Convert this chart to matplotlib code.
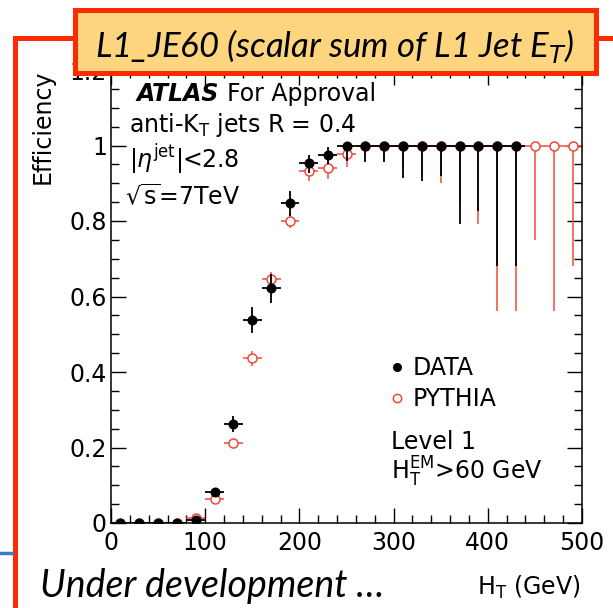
import matplotlib
matplotlib.use("Agg")
import matplotlib.pyplot as plt
from matplotlib.lines import Line2D
from matplotlib.patches import Rectangle
from matplotlib.ticker import MultipleLocator, FixedLocator

# H_T bin centres (GeV), 20 GeV wide bins
ht_data = [10, 30, 50, 70, 90, 110, 130, 150, 170, 190, 210, 230,
           250, 270, 290, 310, 330, 350, 370, 390, 410, 430]
ht_mc = ht_data + [450, 470, 490]

# trigger efficiency, DATA
eff_data = [0, 0, 0, 0, 0.008, 0.083, 0.262, 0.538, 0.622, 0.847, 0.954, 0.975,
            1, 1, 1, 1, 1, 1, 1, 1, 1, 1]
err_data_lo = [0, 0, 0, 0, 0.004, 0.01, 0.021, 0.035, 0.038, 0.033, 0.027, 0.025,
               0.04, 0.043, 0.045, 0.086, 0.095, 0.081, 0.207, 0.174, 0.32, 0.32]
err_data_hi = [0, 0, 0, 0, 0.004, 0.01, 0.021, 0.035, 0.038, 0.033, 0.022, 0.02,
               0, 0, 0, 0, 0, 0, 0, 0, 0, 0]

# trigger efficiency, PYTHIA
eff_mc = [0, 0, 0, 0, 0.013, 0.063, 0.211, 0.436, 0.646, 0.801, 0.932, 0.941,
          0.977, 1, 1, 1, 1, 1, 1, 1, 1, 1, 1, 1, 1]
err_mc_lo = [0, 0, 0, 0, 0.005, 0.008, 0.008, 0.02, 0.02, 0.02, 0.025, 0.03,
             0.033, 0.03, 0.03, 0.06, 0.08, 0.10, 0.15, 0.207, 0.439, 0.439,
             0.251, 0.439, 0.32]
err_mc_hi = [0, 0, 0, 0, 0.005, 0.008, 0.008, 0.02, 0.02, 0.02, 0.025, 0.03,
             0.021, 0, 0, 0, 0, 0, 0, 0, 0, 0, 0, 0, 0]

bin_half = 10
red = "#ef4a3c"
frame_red = "#ff2a00"

W, H = 613, 608
plt.rcParams["font.family"] = "DejaVu Sans"
plt.rcParams["mathtext.fontset"] = "dejavusans"
fig = plt.figure(figsize=(W / 100, H / 100), dpi=100)


def fx(px):
    return px / W


def fy(py):
    return 1 - py / H


ax = fig.add_axes([fx(111), fy(523), fx(582) - fx(111), fy(70) - fy(523)])

ax.errorbar(ht_mc, eff_mc, xerr=bin_half, yerr=[err_mc_lo, err_mc_hi],
            fmt="o", ms=6.5, mfc="white", mec=red, mew=1.1, ecolor=red,
            elinewidth=1.1, capsize=0, zorder=2)
ax.errorbar(ht_data, eff_data, xerr=bin_half, yerr=[err_data_lo, err_data_hi],
            fmt="o", ms=6.2, color="black", ecolor="black",
            elinewidth=1.3, capsize=0, zorder=3)

ax.set_xlim(0, 500)
ax.set_ylim(0, 1.2)
ax.xaxis.set_major_locator(MultipleLocator(100))
ax.xaxis.set_minor_locator(MultipleLocator(20))
ax.yaxis.set_major_locator(FixedLocator([0, 0.2, 0.4, 0.6, 0.8, 1.0, 1.2]))
ax.yaxis.set_minor_locator(MultipleLocator(0.05))
ax.set_yticklabels(["0", "0.2", "0.4", "0.6", "0.8", "1", "1.2"])
ax.tick_params(which="both", direction="in", top=True, right=True,
               labelsize=17, width=1.0)
ax.tick_params(which="major", length=11)
ax.tick_params(which="minor", length=6)
ax.tick_params(axis="y", pad=3)
ax.tick_params(axis="x", pad=6)
for sp in ax.spines.values():
    sp.set_linewidth(1.1)

# axis titles
fig.text(fx(43), fy(70), "Efficiency", rotation=90, ha="center", va="top",
         fontsize=17)
fig.text(fx(581), fy(587), r"H$_{\rm T}$ (GeV)", ha="right", va="center",
         fontsize=17)

# labels inside the frame
fig.text(fx(137), fy(94), "ATLAS", fontsize=17, fontweight="bold",
         style="italic", va="center")
fig.text(fx(227), fy(94), "For Approval", fontsize=17, va="center")
fig.text(fx(129), fy(125), r"anti-K$_{\rm T}$ jets R = 0.4", fontsize=17,
         va="center")
fig.text(fx(129), fy(160), r"|$\eta^{\rm jet}$|<2.8", fontsize=17,
         va="center")
fig.text(fx(125), fy(197), r"$\sqrt{\rm s}$=7TeV", fontsize=17, va="center")

fig.add_artist(Line2D([fx(397)], [fy(367)], marker="o", ms=5.5,
                      color="black", ls="none"))
fig.text(fx(413), fy(368), "DATA", fontsize=17, va="center")
fig.add_artist(Line2D([fx(397)], [fy(398)], marker="o", ms=6, mfc="white",
                      mec=red, mew=1.1, ls="none"))
fig.text(fx(413), fy(399), "PYTHIA", fontsize=17, va="center")
fig.text(fx(391), fy(442), "Level 1", fontsize=17, va="center")
fig.text(fx(391), fy(472), r"H$_{\rm T}^{\rm EM}$>60 GeV", fontsize=17,
         va="center")

# slide frame, title box and footer
fig.add_artist(Line2D([fx(15), fx(15), 1.0], [0.0, fy(38), fy(38)],
                      color=frame_red, lw=3.6, solid_joinstyle="miter"))
fig.add_artist(Line2D([0, fx(12)], [fy(553), fy(553)], color="#3a7cc2", lw=2.5))
fig.add_artist(Rectangle((fx(75), fy(73)), fx(596) - fx(75), fy(10) - fy(73),
                         facecolor="#fdd57e", edgecolor=frame_red, lw=3.6,
                         transform=fig.transFigure, zorder=3))
fig.text(fx(95), fy(46), r"L1_JE60 (scalar sum of L1 Jet E$_{T}$)",
         family="Lato", style="italic", fontsize=25, va="center", zorder=4,
         math_fontfamily="dejavusans")
fig.text(fx(40), fy(586), "Under development \u2026", family="Lato",
         style="italic", fontsize=27, va="center")

fig.savefig("out.png", dpi=100)
